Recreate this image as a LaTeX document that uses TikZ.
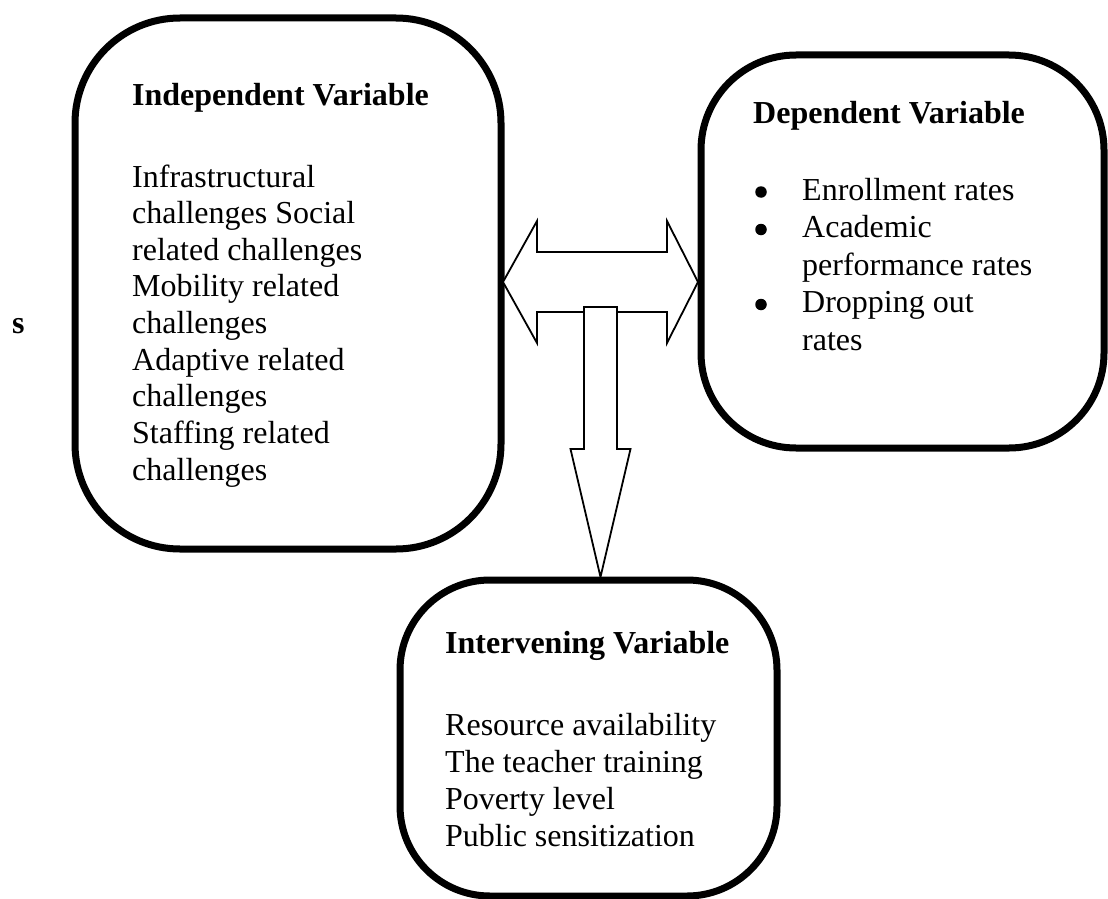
\documentclass[tikz,border=0pt]{standalone}
\usepackage{fontspec}
\setmainfont{Liberation Serif}
\usetikzlibrary{calc, positioning}

\begin{document}
\begin{tikzpicture}[x=1pt, y=-1pt,
    varbox/.style={draw, line width=7pt, inner sep=0pt, outer sep=0pt},
    txt/.style={anchor=base west, inner sep=0pt, font=\fontsize{32}{36.8}\selectfont},
    head/.style={txt, font=\fontsize{32}{36.8}\selectfont\bfseries},
    bullet/.style={circle, fill, inner sep=0pt, minimum size=11.5pt},
    blockarrow/.style={draw, fill=white, line width=1.8pt, line join=miter}]
  \useasboundingbox (0,0) rectangle (1108,899);
  % Independent
  \node[varbox, rounded corners=105pt, minimum width=426pt, minimum height=531pt] (ind) at (288,283.5) {};
  \node[head] (indhead) at (132,105) {Independent Variable};
  \foreach \t [count=\i from 0] in {Infrastructural, challenges Social, related challenges, Mobility related, challenges, Adaptive related, challenges, Staffing related, challenges}
    \node[txt] (ind\i) at (132,187+36.65*\i) {\t};
  \node[head] (s) at (12,333) {s};
  % Dependent
  \node[varbox, rounded corners=95pt, minimum width=403pt, minimum height=393pt] (dep) at (902.5,251.5) {};
  \node[head] (dephead) at (753,123) {Dependent Variable};
  \foreach \t/\b [count=\i from 0] in {Enrollment rates/1, Academic/1, performance rates/0, Dropping out/1, rates/0} {
    \node[txt] (dep\i) at (802,200+37.5*\i) {\t};
    \ifnum\b=1 \node[bullet] (bul\i) at (761,192+37.5*\i) {}; \fi
  }
  % Intervening
  \node[varbox, rounded corners=90pt, minimum width=377pt, minimum height=316pt] (int) at (588.5,738) {};
  \node[head] (inthead) at (445,653) {Intervening Variable};
  \foreach \t [count=\i from 0] in {Resource availability, The teacher training, Poverty level, Public sensitization}
    \node[txt] (int\i) at (445,735+37.3*\i) {\t};
  % Arrows
  \coordinate (dl) at (503,282);
  \coordinate (dr) at (698,282);
  \draw[blockarrow] (dl) -- ++(34,-61) -- ++(0,31) -- ($(dr)+(-31,-30)$) -- ++(0,-31) -- (dr)
    -- ++(-31,61) -- ++(0,-31) -- ($(dl)+(34,30)$) -- ++(0,31) -- cycle;
  \coordinate (dtop) at (600.5,307);
  \coordinate (dtip) at (600.5,577);
  \draw[blockarrow] ($(dtop)+(-16.5,0)$) -- ($(dtop)+(16.5,0)$) -- ($(dtop)+(16.5,142)$) -- ++(13.5,0)
    -- (dtip) -- ($(dtop)+(-30,142)$) -- ++(13.5,0) -- cycle;
\end{tikzpicture}
\end{document}
